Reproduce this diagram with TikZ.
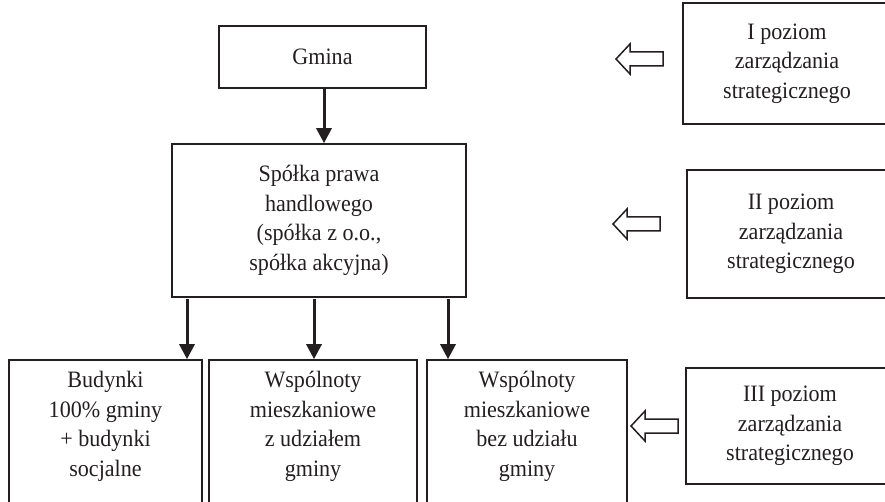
\documentclass[tikz,border=0pt]{standalone}
\usepackage{fontspec}
\setmainfont[FakeStretch=0.94]{Liberation Serif}
\usepackage{tikz}
\usetikzlibrary{arrows.meta, positioning, calc}
\definecolor{ink}{HTML}{231F20}

% pusta strzalka w lewo, grot w punkcie #2
\newcommand{\hollowarrow}[2]{%
  \coordinate (#1) at (#2);
  \draw[hollow] (#1) -- ++(14,-15) -- ++(0,8) -- ++(33,0) -- ++(0,14)
    -- ++(-33,0) -- ++(0,8) -- cycle;
}

\begin{document}
\begin{tikzpicture}[
  x=1pt, y=-1pt,
  font=\fontsize{23.5}{29.5}\selectfont,
  box/.style={rectangle, draw=ink, line width=1.6pt, align=center, inner sep=0pt, text=ink},
  lvl/.style={box, minimum width=208pt},
  arr/.style={-{Triangle[length=15pt, width=15pt]}, ink, line width=3pt},
  hollow/.style={draw=ink, line width=1.5pt, line join=miter}
]
  \clip (0,0) rectangle (885,502);
  % lewa kolumna
  \node[box, minimum width=207pt, minimum height=62pt] (gm) at (322.5,57) {Gmina};
  \node[box, minimum width=294pt, minimum height=153pt] (sp) at (319,220.5)
    {Spółka prawa\\handlowego\\(spółka z o.o.,\\spółka akcyjna)};
  \node[box, minimum width=193pt, minimum height=160pt,
        label={[inner sep=0pt, anchor=north, yshift=-12pt, text=ink, align=center]north:Budynki\\100\% gminy\\+ budynki\\socjalne}]
        (b1) at (105.5,440) {};
  \node[box, minimum width=208pt, minimum height=160pt,
        label={[inner sep=0pt, anchor=north, yshift=-12pt, text=ink, align=center]north:Wspólnoty\\mieszkaniowe\\z udziałem\\gminy}]
        (b2) at (313,440) {};
  \node[box, minimum width=200pt, minimum height=160pt,
        label={[inner sep=0pt, anchor=north, yshift=-12pt, text=ink, align=center]north:Wspólnoty\\mieszkaniowe\\bez udziału\\gminy}]
        (b3) at (527,440) {};

  % poziomy zarzadzania
  \node[lvl, minimum height=121pt] (r1) at (787,63.5) {I poziom\\zarządzania\\strategicznego};
  \node[lvl, minimum height=128pt] (r2) at (791,234) {II poziom\\zarządzania\\strategicznego};
  \node[lvl, minimum height=116pt] (r3) at (790,426) {III poziom\\zarządzania\\strategicznego};

  \hollowarrow{h1}{616,59}
  \hollowarrow{h2}{613,224}
  \hollowarrow{h3}{631,426}

  % strzalki
  \draw[arr] (gm.south -| 324,0) -- (sp.north -| 324,0);
  \coordinate (t1) at (187,299);
  \coordinate (t2) at (314,299);
  \coordinate (t3) at (448,299);
  \draw[arr] (t1) -- (t1 |- b1.north);
  \draw[arr] (t2) -- (t2 |- b2.north);
  \draw[arr] (t3) -- (t3 |- b3.north);
\end{tikzpicture}
\end{document}
